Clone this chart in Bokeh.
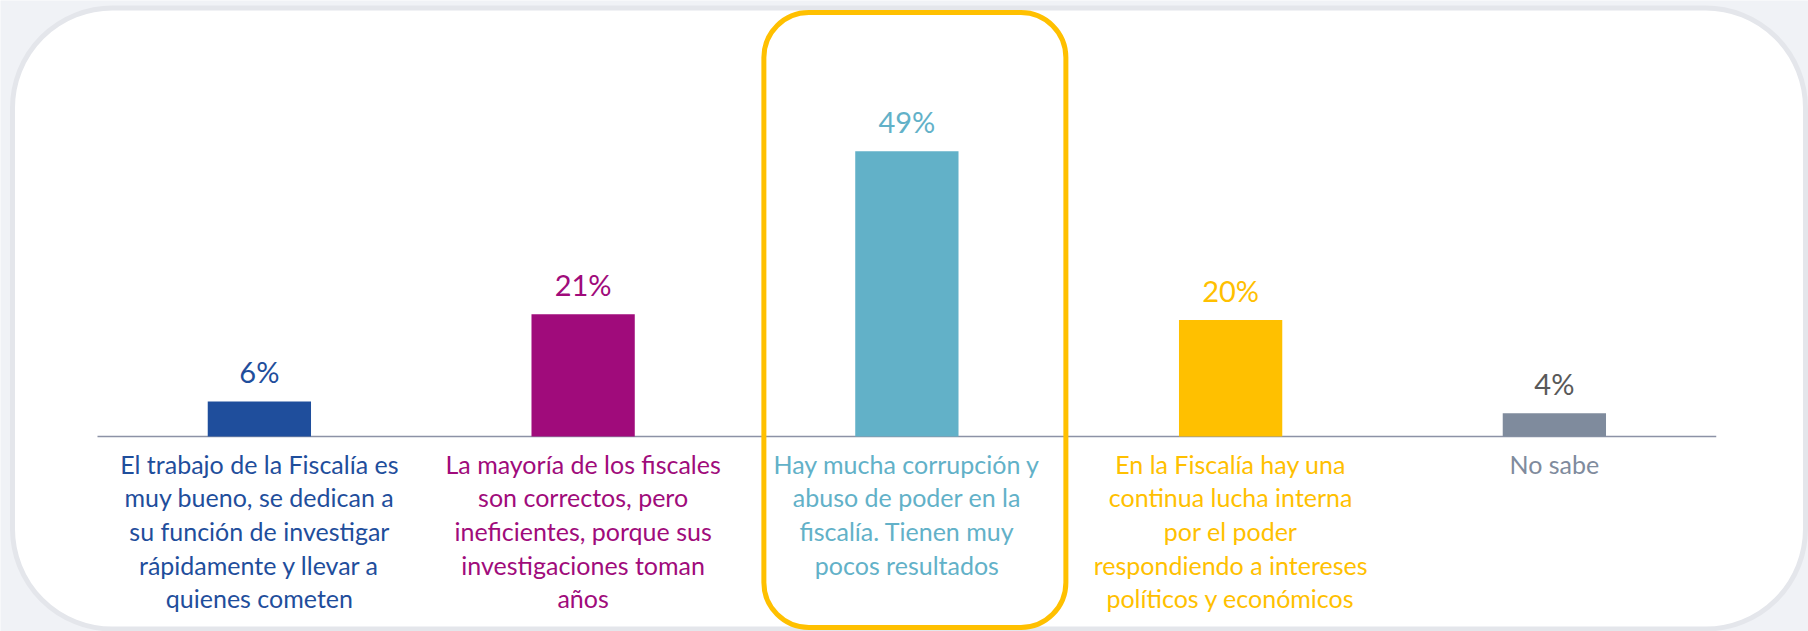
from bokeh.plotting import figure
from bokeh.models import Range1d, BoxAnnotation, ColumnDataSource
from bokeh.core.properties import value
from bokeh.embed import file_html
from bokeh.resources import INLINE

# ---------------- data ----------------
categories = [
    "El trabajo de la Fiscalía es\nmuy bueno, se dedican a\nsu función de investigar\nrápidamente y llevar a\nquienes cometen",
    "La mayoría de los fiscales\nson correctos, pero\nineficientes, porque sus\ninvestigaciones toman\naños",
    "Hay mucha corrupción y\nabuso de poder en la\nfiscalía. Tienen muy\npocos resultados",
    "En la Fiscalía hay una\ncontinua lucha interna\npor el poder\nrespondiendo a intereses\npolíticos y económicos",
    "No sabe",
]
values = [6, 21, 49, 20, 4]
value_labels = ["6%", "21%", "49%", "20%", "4%"]
bar_colors = ["#1F4E9C", "#A00B7B", "#62B1C8", "#FFC000", "#7F8B9D"]
category_colors = ["#1F4E9C", "#A00B7B", "#62B1C8", "#FFC000", "#7F8B9D"]
value_label_colors = ["#1F4E9C", "#A00B7B", "#62B1C8", "#FFC000", "#595959"]
highlight_index = 2

# ---------------- layout constants (pixels) ----------------
W, H = 1808, 631
PX_X = 323.75      # pixels per category
X0_PX = 97         # pixel position of category boundary 0
PX_Y = 5.82        # pixels per percent point
Y0_PX = 436        # pixel position (from top) of baseline

def dx(px):
    return px / PX_X

def dy(px):
    return px / PX_Y

def fx(px):
    return (px - X0_PX) / PX_X

def fy(px_top):
    return (Y0_PX - px_top) / PX_Y

FONT = value("Lato")

p = figure(
    width=W, height=H,
    x_range=Range1d(fx(0), fx(W)),
    y_range=Range1d(fy(H), fy(0)),
    x_axis_type=None, y_axis_type=None,
    output_backend="svg", toolbar_location=None,
    min_border=0, outline_line_color=None,
    background_fill_color="#F0F2F6", border_fill_color="#F0F2F6",
)
p.grid.visible = False

# white rounded panel
panel = BoxAnnotation(
    left=fx(12), right=fx(1805), top=fy(7.5), bottom=fy(628.5),
    fill_color="white", fill_alpha=1.0,
    line_color="#E4E6EB", line_width=5, line_alpha=1.0,
    border_radius=100, level="underlay",
)
p.add_layout(panel)

xs = [i + 0.5 for i in range(len(categories))]

# baseline
p.segment(x0=[0], x1=[len(categories)], y0=[0], y1=[0],
          line_color="#8C92A6", line_width=1.5)

# bars
src = ColumnDataSource(dict(x=xs, top=values, color=bar_colors,
                            lab=value_labels, lab_color=value_label_colors,
                            lab_y=[v + dy(30) for v in values]))
p.vbar(x="x", top="top", bottom=0, width=0.319, fill_color="color",
       line_color=None, source=src)

# value labels
p.text(x="x", y="lab_y", text="lab", text_color="lab_color",
       text_align="center", text_baseline="middle",
       text_font=FONT, text_font_size="29px", source=src)

# category labels (one glyph row per line)
lx, ly, lt, lc = [], [], [], []
for i, cat in enumerate(categories):
    for j, line in enumerate(cat.split("\n")):
        lx.append(xs[i])
        ly.append(-dy(27 + j * 33.7))
        lt.append(line)
        lc.append(category_colors[i])
p.text(x=lx, y=ly, text=lt, text_color=lc,
       text_align="center", text_baseline="middle",
       text_font=FONT, text_font_size="25px")

# highlight box around the main category
hc = xs[highlight_index] + dx(8)
hl = BoxAnnotation(
    left=hc - dx(151), right=hc + dx(151), top=fy(12), bottom=fy(627),
    fill_alpha=0.0, line_color="#FFC000", line_width=5, line_alpha=1.0,
    border_radius=45,
)
p.add_layout(hl)

open("out.html", "w").write(file_html(p, INLINE))
